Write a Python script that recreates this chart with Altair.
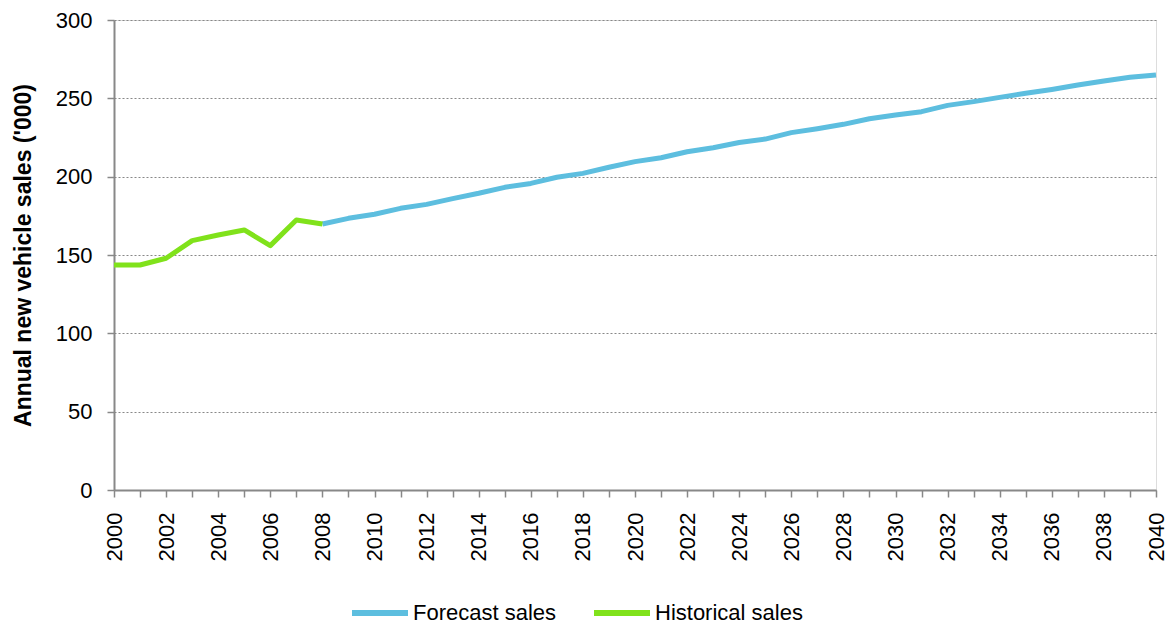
import altair as alt
import pandas as pd

hist_years = list(range(2000, 2009))
hist_values = [143.6, 143.6, 147.9, 159.2, 162.8, 166.0, 156.0, 172.3, 169.8]

fc_years = list(range(2008, 2041))
fc_values = [169.8, 173.4, 176.0, 179.8, 182.3, 186.0, 189.4, 193.2, 195.7, 199.6,
             202.1, 206.0, 209.6, 212.1, 215.9, 218.5, 221.8, 224.0, 228.1, 230.6,
             233.4, 237.0, 239.4, 241.5, 245.5, 247.9, 250.6, 253.2, 255.7, 258.5,
             261.1, 263.4, 264.9]

series_names = ["Forecast sales", "Historical sales"]
series_colors = ["#5DBEDF", "#80E21B"]

rows = []
for y, v in zip(fc_years, fc_values):
    rows.append({"year": y, "value": v, "series": series_names[0]})
for y, v in zip(hist_years, hist_values):
    rows.append({"year": y, "value": v, "series": series_names[1]})
df = pd.DataFrame(rows)

font = "Liberation Sans"

chart = alt.Chart(df).mark_line(strokeWidth=5, strokeCap="butt", strokeJoin="round").encode(
    x=alt.X("year:Q",
            scale=alt.Scale(domain=[2000, 2040], nice=False, zero=False),
            axis=alt.Axis(title=None, values=list(range(2000, 2041)),
                          labelExpr="datum.value % 2 == 0 ? format(datum.value, 'd') : ''",
                          labelAngle=-90, grid=False, tickSize=7,
                          labelPadding=15, labelFontSize=22, labelFont=font,
                          labelColor="#000", domainColor="#888", tickColor="#888",
                          domainWidth=2, tickWidth=1.5)),
    y=alt.Y("value:Q",
            scale=alt.Scale(domain=[0, 300], nice=False),
            axis=alt.Axis(title="Annual new vehicle sales ('000)", values=[0, 50, 100, 150, 200, 250, 300],
                          grid=True, gridDash=[2, 2], gridColor="#888", gridWidth=1.2,
                          tickSize=7, labelPadding=15, labelFontSize=22, labelFont=font,
                          labelColor="#000", domainColor="#888", tickColor="#888",
                          domainWidth=2, tickWidth=1.5,
                          titleFont=font, titleFontSize=23, titleFontWeight="bold",
                          titleColor="#000", titlePadding=20)),
    color=alt.Color("series:N",
                    scale=alt.Scale(domain=series_names, range=series_colors),
                    legend=alt.Legend(title=None, orient="none", direction="horizontal",
                                      legendX=235, legendY=562,
                                      symbolType="stroke", symbolSize=3136,
                                      symbolStrokeWidth=6, labelFontSize=22, labelFont=font,
                                      labelColor="#000", labelOffset=2, columnPadding=25)),
).properties(
    width=1042, height=470,
    autosize=alt.AutoSizeParams(type="none"),
    padding={"left": 114, "top": 20, "right": 12, "bottom": 134},
).configure_view(stroke=None).configure(background="white")

chart.save("out.html", embed_options={"renderer": "svg", "actions": False})
